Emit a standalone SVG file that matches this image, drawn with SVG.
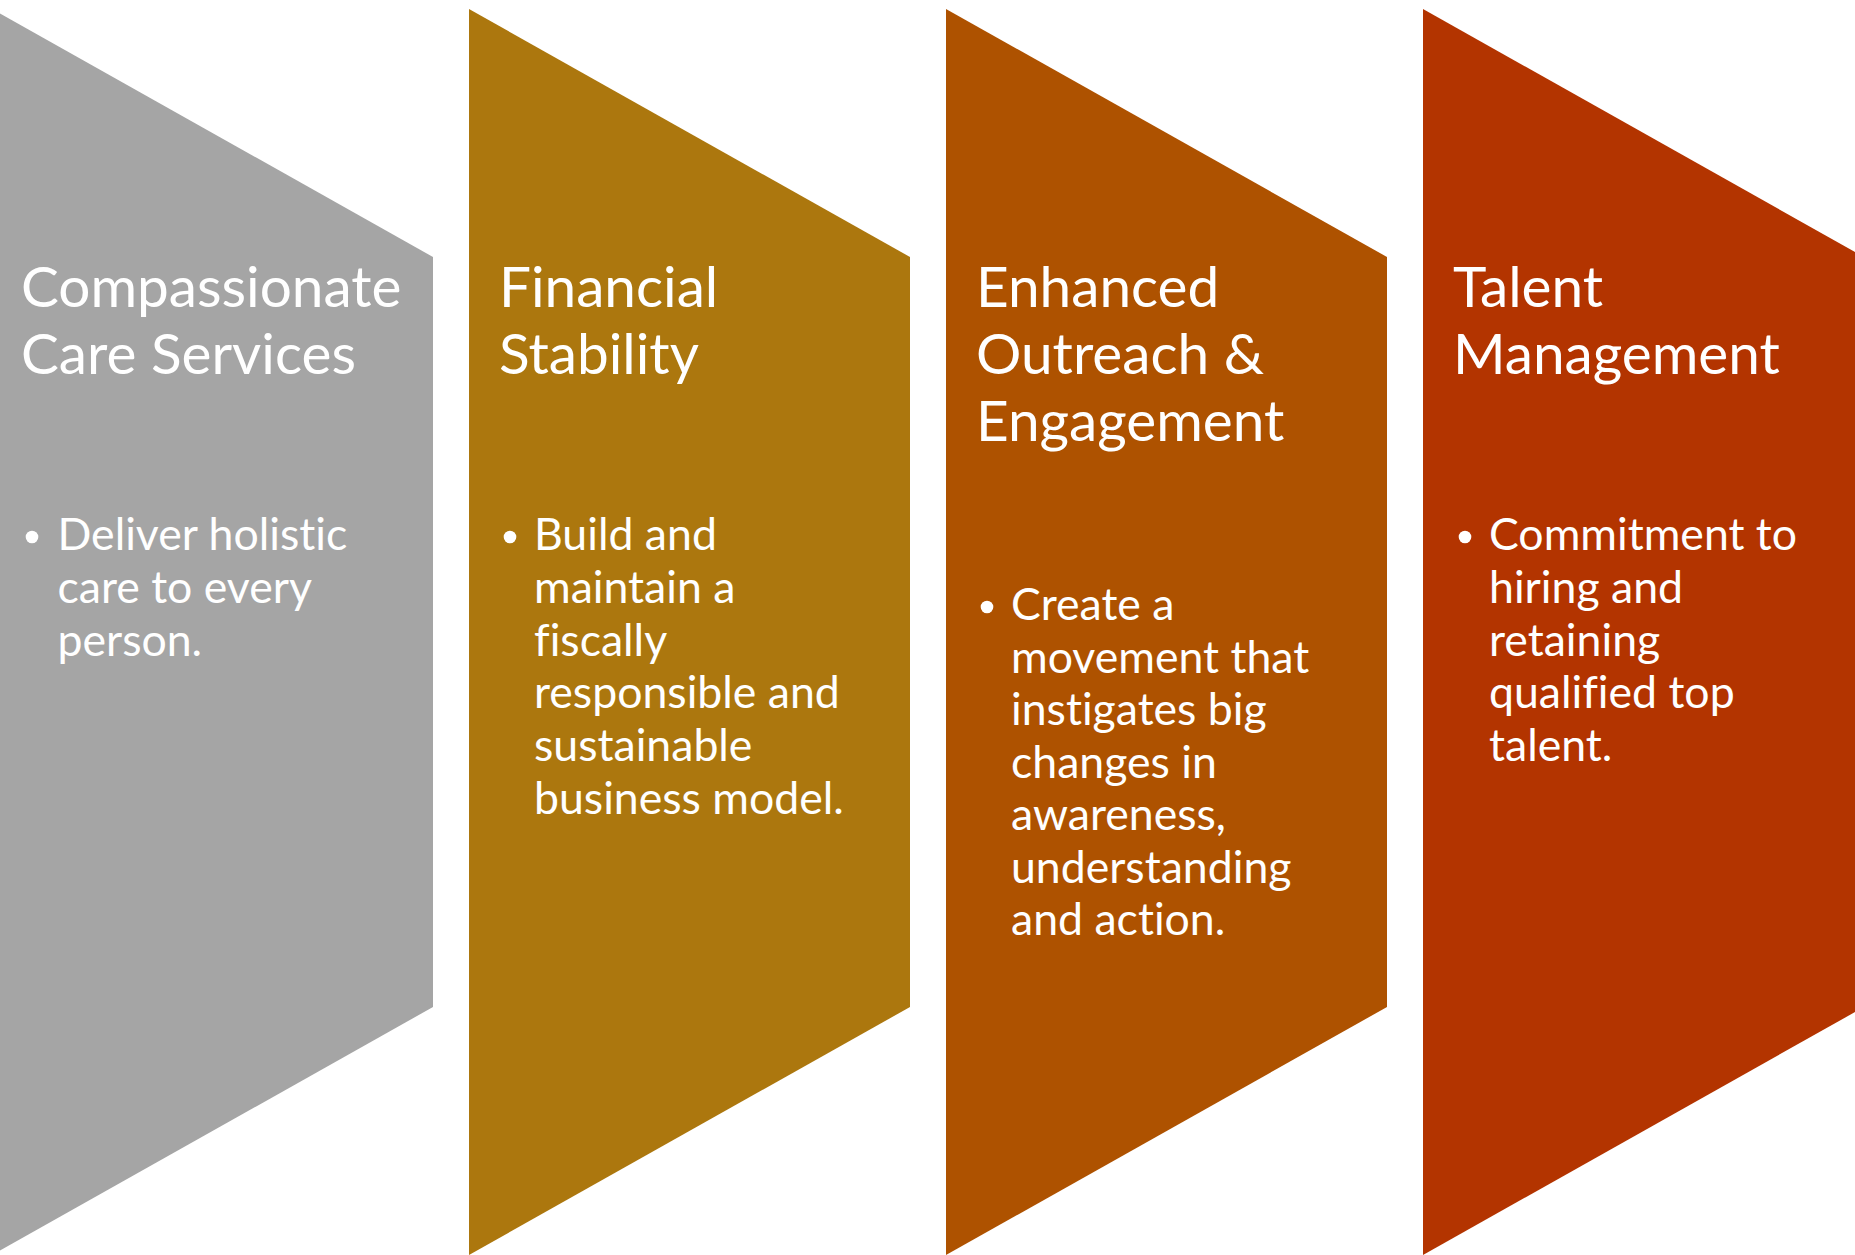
<svg xmlns="http://www.w3.org/2000/svg" width="1855" height="1255" viewBox="0 0 1855 1255">
<style>
text{font-family:Lato,"Open Sans","Liberation Sans",sans-serif;fill:#FFFFFF;font-variant-ligatures:none;}
.title{font-size:56.7px;}
.body{font-size:44.6px;}
.dot{fill:#FFFFFF;}
</style>
<rect x="0" y="0" width="1855" height="1255" fill="#FFFFFF"/>
<g id="node-care">
<polygon points="-8,9 433,257 433,1007 -8,1255" fill="#A5A5A5"/>
<text class="title"><tspan x="21" y="307">Compassionate</tspan><tspan x="21" y="374">Care Services</tspan></text>
<circle class="dot" cx="32" cy="537" r="6.3"/>
<text class="body"><tspan x="57.5" y="550">Deliver holistic</tspan><tspan x="57.5" y="602.8">care to every</tspan><tspan x="57.5" y="655.6">person.</tspan></text>
</g>
<g id="node-financial">
<polygon points="469,9 910,257 910,1007 469,1255" fill="#AC770E"/>
<text class="title"><tspan x="499" y="307">Financial</tspan><tspan x="499" y="374">Stability</tspan></text>
<circle class="dot" cx="510" cy="537" r="6.3"/>
<text class="body"><tspan x="534" y="550">Build and</tspan><tspan x="534" y="602.8">maintain a</tspan><tspan x="534" y="655.6">fiscally</tspan><tspan x="534" y="708.4">responsible and</tspan><tspan x="534" y="761.2">sustainable</tspan><tspan x="534" y="814">business model.</tspan></text>
</g>
<g id="node-outreach">
<polygon points="946,9 1387,257 1387,1007 946,1255" fill="#AE5200"/>
<text class="title"><tspan x="976" y="307">Enhanced</tspan><tspan x="976" y="374">Outreach &amp;</tspan><tspan x="976" y="441">Engagement</tspan></text>
<circle class="dot" cx="987" cy="607" r="6.3"/>
<text class="body"><tspan x="1011" y="620">Create a</tspan><tspan x="1011" y="672.5">movement that</tspan><tspan x="1011" y="725">instigates big</tspan><tspan x="1011" y="777.5">changes in</tspan><tspan x="1011" y="830">awareness,</tspan><tspan x="1011" y="882.5">understanding</tspan><tspan x="1011" y="935">and action.</tspan></text>
</g>
<g id="node-talent">
<polygon points="1423,9 1864,257 1864,1007 1423,1255" fill="#B33400"/>
<text class="title"><tspan x="1453" y="307">Talent</tspan><tspan x="1453" y="374">Management</tspan></text>
<circle class="dot" cx="1465" cy="537" r="6.3"/>
<text class="body"><tspan x="1489" y="550">Commitment to</tspan><tspan x="1489" y="602.8">hiring and</tspan><tspan x="1489" y="655.6">retaining</tspan><tspan x="1489" y="708.4">qualified top</tspan><tspan x="1489" y="761.2">talent.</tspan></text>
</g>
</svg>
